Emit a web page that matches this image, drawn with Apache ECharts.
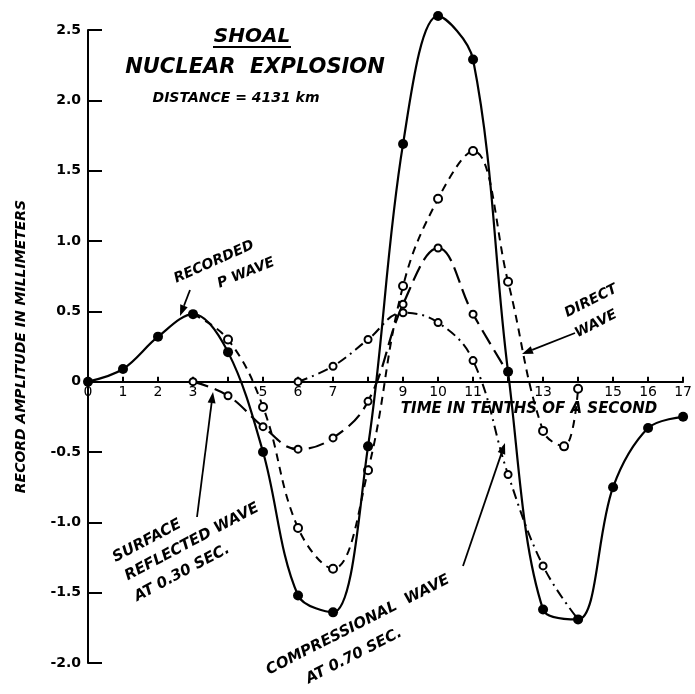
<!DOCTYPE html>
<html><head><meta charset="utf-8">
<script src="https://cdn.jsdelivr.net/npm/echarts@6/dist/echarts.min.js"></script>
<style>html,body{margin:0;padding:0;background:#fff}#c{width:695px;height:694px}</style>
</head><body><div id="c"></div>
<script>
// ---- data ----
const time = [0,1,2,3,4,5,6,7,8,9,10,11,12,13,14,15,16,17];
const recordedP = [0,0.09,0.32,0.48,0.21,-0.5,-1.52,-1.64,-0.46,1.69,2.6,2.29,0.07,-1.62,-1.69,-0.75,-0.33,-0.25];
const directTime = [3,4,5,6,7,8,9,10,11,12,13,13.6,14];
const directWave = [0.48,0.3,-0.18,-1.04,-1.33,-0.63,0.68,1.30,1.64,0.71,-0.35,-0.46,-0.05];
const reflectedTime = [3,4,5,6,7,8,9,10,11,12];
const reflectedWave = [0,-0.1,-0.32,-0.48,-0.4,-0.14,0.55,0.95,0.48,0.06];
const compTime = [6,7,8,9,10,11,12,13,14];
const compWave = [0,0.11,0.30,0.49,0.42,0.15,-0.66,-1.31,-1.69];
const xTickLabels = ['0','1','2','3','','5','6','7','','9','10','11','','13','','15','16','17'];
const yTickLabels = {'2.5':'2.5','2':'2.0','1.5':'1.5','1':'1.0','0.5':'0.5','0':'0','-0.5':'-0.5','-1':'-1.0','-1.5':'-1.5','-2':'-2.0'};

const FONT = 'DejaVu Sans';
const pairs = (xs, ys) => xs.map((x, i) => [x, ys[i]]);

const GRID_TOP = 30, GRID_BOTTOM = 31, H = 694;
const YMIN = -2, YMAX = 2.5;
// place the x axis (line, ticks, labels) at y = 0
const plotH = H - GRID_TOP - GRID_BOTTOM;
const zeroOffset = -plotH * (0 - YMIN) / (YMAX - YMIN);

const chart = echarts.init(document.getElementById('c'));

function arrow(x1, y1, x2, y2) {
  const a = Math.atan2(y2 - y1, x2 - x1), L = 11, W = 4;
  const bx = x2 - L * Math.cos(a), by = y2 - L * Math.sin(a);
  const px = -Math.sin(a) * W, py = Math.cos(a) * W;
  return [
    {type: 'line', shape: {x1, y1, x2: bx, y2: by}, style: {stroke: '#000', lineWidth: 1.8}},
    {type: 'polygon', shape: {points: [[x2, y2], [bx + px, by + py], [bx - px, by - py]]}, style: {fill: '#000'}}
  ];
}
function label(text, x, y, deg, size) {
  return {type: 'text', x, y, rotation: deg * Math.PI / 180,
    style: {text, fontFamily: FONT, fontWeight: 'bold', fontStyle: 'italic', fontSize: size || 14,
      fill: '#000', align: 'center', verticalAlign: 'middle'}};
}

const option = {
  backgroundColor: '#fff',
  animation: false,
  grid: {left: 88, right: 7, top: GRID_TOP, bottom: GRID_BOTTOM},
  xAxis: {
    type: 'value', min: 0, max: 17, interval: 1, offset: zeroOffset,
    axisLine: {onZero: false, lineStyle: {color: '#000', width: 2}},
    axisTick: {inside: true, length: 5, lineStyle: {color: '#000', width: 2}},
    axisLabel: {margin: 4, color: '#000', fontFamily: FONT, fontSize: 14,
      formatter: v => xTickLabels[Math.round(v)] ?? ''},
    splitLine: {show: false}
  },
  yAxis: {
    type: 'value', min: YMIN, max: YMAX, interval: 0.5,
    name: 'RECORD AMPLITUDE IN MILLIMETERS', nameLocation: 'middle', nameRotate: 90, nameGap: 60,
    nameTextStyle: {fontFamily: FONT, fontWeight: 'bold', fontStyle: 'italic', fontSize: 14, color: '#000'},
    axisLine: {show: true, lineStyle: {color: '#000', width: 2}},
    axisTick: {inside: true, length: 14, lineStyle: {color: '#000', width: 2}},
    axisLabel: {margin: 7, color: '#000', fontFamily: FONT, fontWeight: 'bold', fontSize: 14,
      formatter: v => yTickLabels[String(v)] ?? ''},
    splitLine: {show: false}
  },
  series: [
    {name: 'Recorded P wave', type: 'line', smooth: 0.35, clip: false, data: pairs(time, recordedP), z: 5,
      symbol: 'circle', symbolSize: 10, itemStyle: {color: '#000'},
      lineStyle: {color: '#000', width: 2.2}},
    {name: 'Direct wave', type: 'line', smooth: 0.4, data: pairs(directTime, directWave), z: 4,
      symbol: (v, p) => p.dataIndex === 0 ? 'none' : 'emptyCircle', symbolSize: 8,
      itemStyle: {color: '#000', borderColor: '#000', borderWidth: 1.5},
      lineStyle: {color: '#000', width: 2, type: [8, 6]}},
    {name: 'Surface reflected wave', type: 'line', smooth: 0.4, data: pairs(reflectedTime, reflectedWave), z: 3,
      symbol: (v, p) => p.dataIndex === reflectedTime.length - 1 ? 'none' : 'emptyCircle', symbolSize: 7,
      itemStyle: {color: '#000', borderColor: '#000', borderWidth: 2.5},
      lineStyle: {color: '#000', width: 2.2, type: [16, 7]}},
    {name: 'Compressional wave', type: 'line', smooth: 0.4, data: pairs(compTime, compWave), z: 3,
      symbol: (v, p) => p.dataIndex === compTime.length - 1 ? 'none' : 'emptyCircle', symbolSize: 7,
      itemStyle: {color: '#000', borderColor: '#000', borderWidth: 2.5},
      lineStyle: {color: '#000', width: 2, type: [10, 5, 2, 5]}}
  ],
  graphic: [
    label('SHOAL', 252, 37, 0, 20),
    {type: 'line', shape: {x1: 213, y1: 47, x2: 291, y2: 47}, style: {stroke: '#000', lineWidth: 2}},
    label('NUCLEAR  EXPLOSION', 255, 68, 0, 21),
    label('DISTANCE = 4131 km', 236, 98, 0, 14),
    label('TIME IN TENTHS OF A SECOND', 529, 409, 0, 15),
    label('RECORDED', 214, 262, 24, 14),
    label('P WAVE', 246, 273, 22, 14),
    ...arrow(190, 290, 180, 316),
    label('DIRECT', 591, 301, 27, 14),
    label('WAVE', 596, 324, 27, 14),
    ...arrow(575, 333, 522, 354),
    label('SURFACE', 147, 541, 28, 15),
    label('REFLECTED WAVE', 192, 542, 28, 15),
    label('AT 0.30 SEC.', 182, 573, 28, 15),
    ...arrow(197, 517, 213, 392),
    label('COMPRESSIONAL  WAVE', 358, 625, 27, 15),
    label('AT 0.70 SEC.', 354, 656, 27, 15),
    ...arrow(463, 566, 505, 443)
  ]
};
chart.setOption(option);
</script></body></html>
